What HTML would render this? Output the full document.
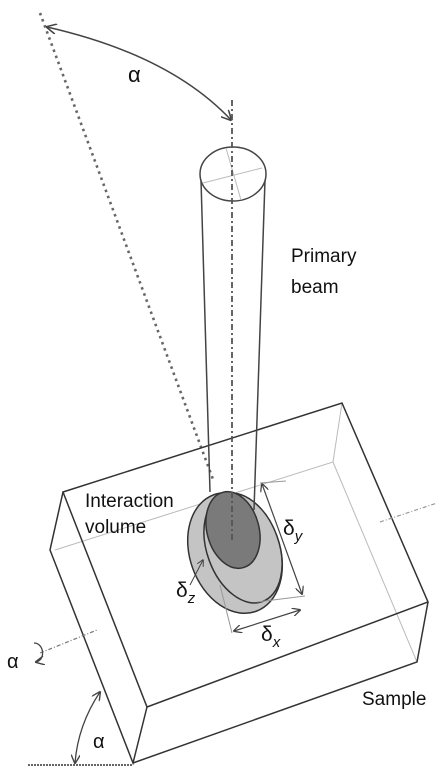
<!DOCTYPE html>
<html><head><meta charset="utf-8"><style>
html,body{margin:0;padding:0;background:#fff;width:444px;height:774px;overflow:hidden}
svg{display:block}
text{font-family:"Liberation Sans","DejaVu Sans",sans-serif;fill:#111}
</style></head><body>
<svg width="444" height="774" viewBox="0 0 444 774">
<defs>
<marker id="ah" viewBox="0 0 10 10" refX="9" refY="5" markerWidth="7" markerHeight="7" orient="auto-start-reverse"><path d="M0,0 L10,5 L0,10" fill="none" stroke="#444" stroke-width="1.5"/></marker>
</defs>
<line x1="40" y1="13" x2="214" y2="482" stroke="#666" stroke-width="2.6" stroke-dasharray="2.5,4"/>
<path d="M47,27 Q170,55 231,120" fill="none" stroke="#444" stroke-width="1.5" marker-start="url(#ah)" marker-end="url(#ah)"/>
<text x="128" y="82" font-size="22" font-family="Liberation Serif">α</text>
<g stroke="#bbb" stroke-width="1" fill="none">
<polyline points="55,550 333,462 342,403"/>
<line x1="333" y1="462" x2="417" y2="662"/>
</g>
<g stroke="#333" stroke-width="1.5" fill="none">
<polygon points="63,492 342,403 428,602 147,707"/>
<polyline points="63,492 50,550 133,763 147,707"/>
<polyline points="133,763 417,662 428,602"/>
</g>
<ellipse cx="235" cy="553" rx="45" ry="62" transform="rotate(-20 235 553)" fill="#c4c4c4" stroke="#333" stroke-width="1.5"/>
<ellipse cx="243" cy="548" rx="36" ry="57" transform="rotate(-20 243 548)" fill="#c4c4c4" stroke="#333" stroke-width="1.5"/>
<ellipse cx="233" cy="530" rx="26" ry="39" transform="rotate(-15 233 530)" fill="#7a7a7a" stroke="#333" stroke-width="1.5"/>
<g stroke="#444" stroke-width="1.5" fill="none">
<line x1="201" y1="180" x2="210" y2="492"/>
<line x1="265" y1="180" x2="254" y2="510"/>
<ellipse cx="233" cy="174" rx="33" ry="27" fill="#fff"/>
</g>
<line x1="203" y1="183" x2="262" y2="168" stroke="#bbb" stroke-width="1"/>
<line x1="226" y1="148" x2="241" y2="200" stroke="#bbb" stroke-width="1"/>
<line x1="232" y1="100" x2="232" y2="540" stroke="#555" stroke-width="1.8" stroke-dasharray="6,3,2,3"/>
<text x="291" y="262" font-size="19">Primary</text>
<text x="291" y="293" font-size="19">beam</text>
<text x="85" y="507" font-size="19">Interaction</text>
<text x="85" y="533" font-size="19">volume</text>
<line x1="262" y1="484" x2="302" y2="594" stroke="#444" stroke-width="1.2" marker-start="url(#ah)" marker-end="url(#ah)"/>
<line x1="234" y1="631" x2="300" y2="610" stroke="#444" stroke-width="1.2" marker-start="url(#ah)" marker-end="url(#ah)"/>
<line x1="286" y1="481" x2="260" y2="483" stroke="#999" stroke-width="1"/>
<line x1="257" y1="602" x2="305" y2="596" stroke="#999" stroke-width="1"/>
<line x1="220" y1="585" x2="232" y2="633" stroke="#999" stroke-width="1"/>
<line x1="190" y1="585" x2="203" y2="560" stroke="#444" stroke-width="1" marker-end="url(#ah)"/>
<text x="283" y="535" font-size="21">δ<tspan font-size="15" dy="6" font-style="italic">y</tspan></text>
<text x="261" y="641" font-size="21">δ<tspan font-size="15" dy="6" font-style="italic">x</tspan></text>
<text x="176" y="597" font-size="21">δ<tspan font-size="15" dy="6" font-style="italic">z</tspan></text>
<line x1="40" y1="653" x2="97" y2="630" stroke="#777" stroke-width="1.2" stroke-dasharray="4,2,1,2"/>
<line x1="380" y1="522" x2="437" y2="503" stroke="#999" stroke-width="1.2" stroke-dasharray="4,2,1,2"/>
<path d="M34,643 C44,643 46,660 36,662" fill="none" stroke="#444" stroke-width="1.3" marker-end="url(#ah)"/>
<text x="7" y="668" font-size="20" font-family="Liberation Serif">α</text>
<text x="362" y="705" font-size="19">Sample</text>
<line x1="28" y1="765" x2="133" y2="765" stroke="#666" stroke-width="2" stroke-dasharray="2,1"/>
<path d="M100,692 Q78,725 75,763" fill="none" stroke="#444" stroke-width="1.3" marker-start="url(#ah)" marker-end="url(#ah)"/>
<text x="93" y="748" font-size="20" font-family="Liberation Serif">α</text>
</svg>
</body></html>
